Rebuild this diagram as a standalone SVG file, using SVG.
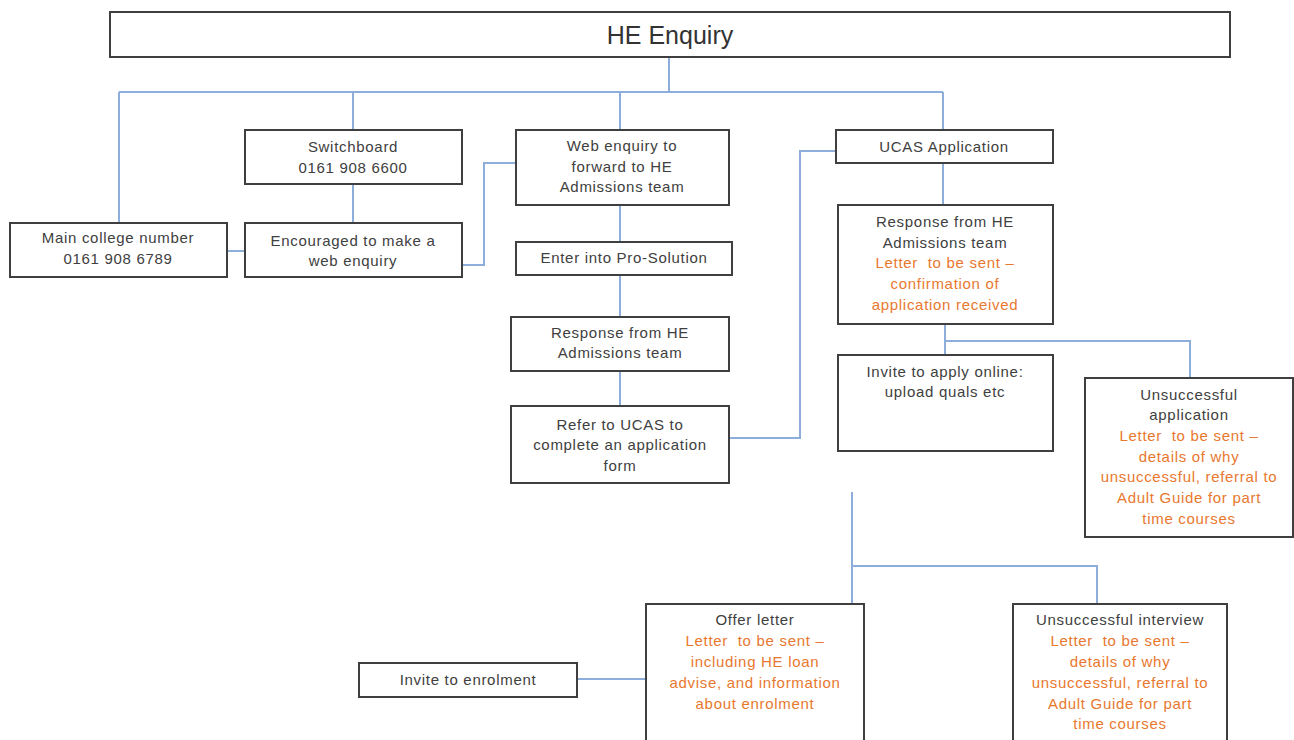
<svg xmlns="http://www.w3.org/2000/svg" width="1294" height="740" viewBox="0 0 1294 740">
<style>
.box{fill:#fff;stroke:#3f3f3f;stroke-width:2}
.t{font-family:"Liberation Sans",Arial,sans-serif;font-size:15px;letter-spacing:0.7px;fill:#404040;text-anchor:middle;white-space:pre}
.o{fill:#E8782F}
.title{font-family:"Liberation Sans",Arial,sans-serif;font-size:25px;fill:#333;text-anchor:middle}
.c{fill:none;stroke:#8DAEDB;stroke-width:2}
</style>
<rect width="1294" height="740" fill="#fff"/>
<g id="connectors">
<path class="c" d="M669 57V92M119 92H943M119 92V223M353 92V130M620 92V130M943 92V130"/>
<path class="c" d="M353 184V223M227 251H245M462 265H484V163H516"/>
<path class="c" d="M620 205V242M620 275V317M620 371V406"/>
<path class="c" d="M729 438H800V151H836"/>
<path class="c" d="M943 163V205M945 324V355M945 341H1190V378"/>
<path class="c" d="M852 492V604M852 566H1097V604"/>
<path class="c" d="M577 679H646"/>
</g>
<g id="n-title"><rect class="box" x="110" y="12" width="1120" height="45"/><text class="title" x="670" y="44">HE Enquiry</text></g>
<g id="n-main"><rect class="box" x="10" y="223" width="217" height="54"/><text class="t" x="118" y="243">Main college number</text><text class="t" x="118" y="264">0161 908 6789</text></g>
<g id="n-switch"><rect class="box" x="245" y="130" width="217" height="54"/><text class="t" x="353" y="152">Switchboard</text><text class="t" x="353" y="173">0161 908 6600</text></g>
<g id="n-encouraged"><rect class="box" x="245" y="223" width="217" height="54"/><text class="t" x="353" y="246">Encouraged to make a</text><text class="t" x="353" y="266">web enquiry</text></g>
<g id="n-web"><rect class="box" x="516" y="130" width="213" height="75"/><text class="t" x="622" y="151">Web enquiry to</text><text class="t" x="622" y="172">forward to HE</text><text class="t" x="622" y="192">Admissions team</text></g>
<g id="n-enter"><rect class="box" x="516" y="242" width="216" height="33"/><text class="t" x="624" y="263">Enter into Pro-Solution</text></g>
<g id="n-response1"><rect class="box" x="511" y="317" width="218" height="54"/><text class="t" x="620" y="338">Response from HE</text><text class="t" x="620" y="358">Admissions team</text></g>
<g id="n-refer"><rect class="box" x="511" y="406" width="218" height="77"/><text class="t" x="620" y="430">Refer to UCAS to</text><text class="t" x="620" y="450">complete an application</text><text class="t" x="620" y="471">form</text></g>
<g id="n-ucas"><rect class="box" x="836" y="130" width="217" height="33"/><text class="t" x="944" y="152">UCAS Application</text></g>
<g id="n-response2"><rect class="box" x="838" y="205" width="215" height="119"/><text class="t" x="945" y="227">Response from HE</text><text class="t" x="945" y="248">Admissions team</text><text class="t o" x="945" y="268" xml:space="preserve">Letter  to be sent –</text><text class="t o" x="945" y="289">confirmation of</text><text class="t o" x="945" y="310">application received</text></g>
<g id="n-invite-apply"><rect class="box" x="838" y="355" width="215" height="96"/><text class="t" x="945" y="377">Invite to apply online:</text><text class="t" x="945" y="397">upload quals etc</text></g>
<g id="n-unsucc-app"><rect class="box" x="1085" y="378" width="208" height="159"/><text class="t" x="1189" y="400">Unsuccessful</text><text class="t" x="1189" y="420">application</text><text class="t o" x="1189" y="441" xml:space="preserve">Letter  to be sent –</text><text class="t o" x="1189" y="462">details of why</text><text class="t o" x="1189" y="482">unsuccessful, referral to</text><text class="t o" x="1189" y="503">Adult Guide for part</text><text class="t o" x="1189" y="524">time courses</text></g>
<g id="n-offer"><rect class="box" x="646" y="604" width="218" height="145"/><text class="t" x="755" y="625">Offer letter</text><text class="t o" x="755" y="646" xml:space="preserve">Letter  to be sent –</text><text class="t o" x="755" y="667">including HE loan</text><text class="t o" x="755" y="688">advise, and information</text><text class="t o" x="755" y="709">about enrolment</text></g>
<g id="n-unsucc-int"><rect class="box" x="1013" y="604" width="214" height="145"/><text class="t" x="1120" y="625">Unsuccessful interview</text><text class="t o" x="1120" y="646" xml:space="preserve">Letter  to be sent –</text><text class="t o" x="1120" y="667">details of why</text><text class="t o" x="1120" y="688">unsuccessful, referral to</text><text class="t o" x="1120" y="709">Adult Guide for part</text><text class="t o" x="1120" y="729">time courses</text></g>
<g id="n-enrol"><rect class="box" x="359" y="663" width="218" height="34"/><text class="t" x="468" y="685">Invite to enrolment</text></g>
</svg>
